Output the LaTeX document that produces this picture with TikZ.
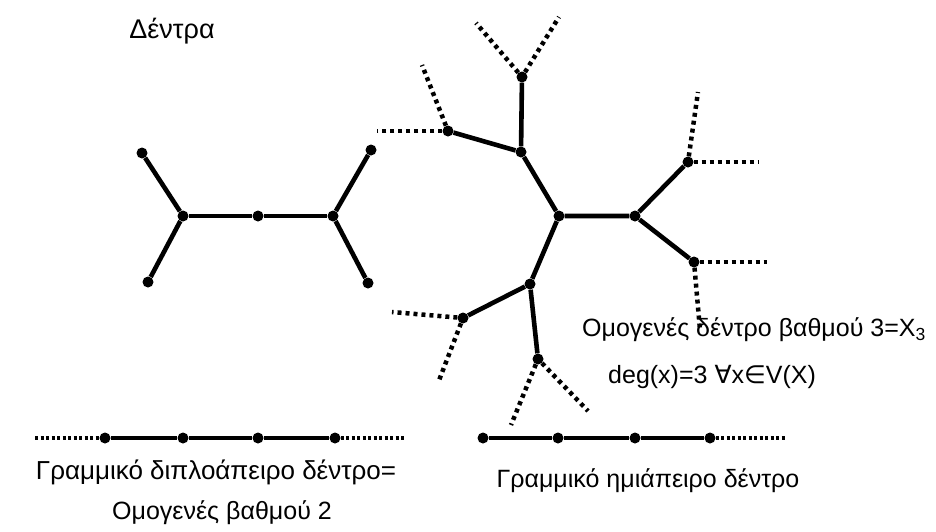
\documentclass[tikz,border=0pt]{standalone}
\usepackage{fontspec}
\setmainfont{Liberation Sans}
\newfontfamily\symfont{DejaVu Sans}
\begin{document}
\begin{tikzpicture}[x=1pt,y=-1pt,
  dot/.style={circle,fill=black,inner sep=0pt,minimum size=11pt},
  edge/.style={line width=4.6pt},
  dots/.style={line width=4.5pt,dash pattern=on 4pt off 4pt},
  fdots/.style={line width=4pt,dash pattern=on 3pt off 2.5pt},
  lbl/.style={inner sep=0pt,font=\fontsize{25}{30}\selectfont}]
\useasboundingbox (0,0) rectangle (936,531);
% title
\node[lbl,font=\fontsize{27}{30}\selectfont] (title) at (172,31) {Δέντρα};
% left tree
\node[dot] (l1) at (142,153) {};
\node[dot] (l2) at (148,282) {};
\node[dot] (l3) at (183,216) {};
\node[dot] (l4) at (258,216) {};
\node[dot] (l5) at (333,216) {};
\node[dot] (l6) at (371,150) {};
\node[dot] (l7) at (368,283) {};
\draw[edge] (l1) -- (l3) -- (l2);
\draw[edge] (l3) -- (l4) -- (l5);
\draw[edge] (l6) -- (l5) -- (l7);
% right tree
\node[dot] (T) at (522,77) {};
\node[dot] (A) at (521,152) {};
\node[dot] (B) at (448,131) {};
\node[dot] (C) at (559,216) {};
\node[dot] (D) at (635,216) {};
\node[dot] (E) at (688,162) {};
\node[dot] (F) at (694,262) {};
\node[dot] (G) at (530,284) {};
\node[dot] (H) at (463,318) {};
\node[dot] (I) at (538,359) {};
\draw[edge] (T) -- (A) -- (C);
\draw[edge] (B) -- (A);
\draw[edge] (C) -- (D) -- (E);
\draw[edge] (D) -- (F);
\draw[edge] (C) -- (G) -- (H);
\draw[edge] (G) -- (I);
\coordinate (t1) at (476,23);
\coordinate (t2) at (559,17);
\coordinate (b1) at (377,131);
\coordinate (b2) at (422,65);
\coordinate (e1) at (759,162);
\coordinate (e2) at (698,92);
\coordinate (f1) at (767,262);
\coordinate (f2) at (700,330);
\coordinate (h1) at (392,312);
\coordinate (h2) at (438,383);
\coordinate (i1) at (511,425);
\coordinate (i2) at (588,411);
\foreach \n/\e in {T/t1,T/t2,B/b1,B/b2,E/e1,E/e2,F/f1,F/f2,H/h1,H/h2,I/i1,I/i2}
  \draw[dots] (\n) -- (\e);
% labels right
\node[lbl,anchor=west] (hom) at (582,330) {Ομογενές δέντρο βαθμού 3=X\textsubscript{3}};
\node[lbl,anchor=west] (deg) at (608,377) {deg(x)=3 {\symfont∀}x{\symfont∈}V(X)};
% bottom left line
\node[dot] (p1) at (105,438) {};
\node[dot] (p2) at (183,438) {};
\node[dot] (p3) at (258,438) {};
\node[dot] (p4) at (335,438) {};
\coordinate (pl) at (35,438);
\coordinate (pr) at (405,438);
\draw[edge] (p1) -- (p2) -- (p3) -- (p4);
\draw[fdots] (pl) -- (p1);
\draw[fdots] (p4) -- (pr);
% bottom right line
\node[dot] (q1) at (483,438) {};
\node[dot] (q2) at (558,438) {};
\node[dot] (q3) at (635,438) {};
\node[dot] (q4) at (710,438) {};
\coordinate (qr) at (785,438);
\draw[edge] (q1) -- (q2) -- (q3) -- (q4);
\draw[fdots] (q4) -- (qr);
% bottom texts
\node[lbl,font=\fontsize{26}{30}\selectfont] (bl1) at (216,472) {Γραμμικό διπλοάπειρο δέντρο=};
\node[lbl] (bl2) at (222,513) {Ομογενές βαθμού 2};
\node[lbl] (br) at (648,481) {Γραμμικό ημιάπειρο δέντρο};
\end{tikzpicture}
\end{document}
